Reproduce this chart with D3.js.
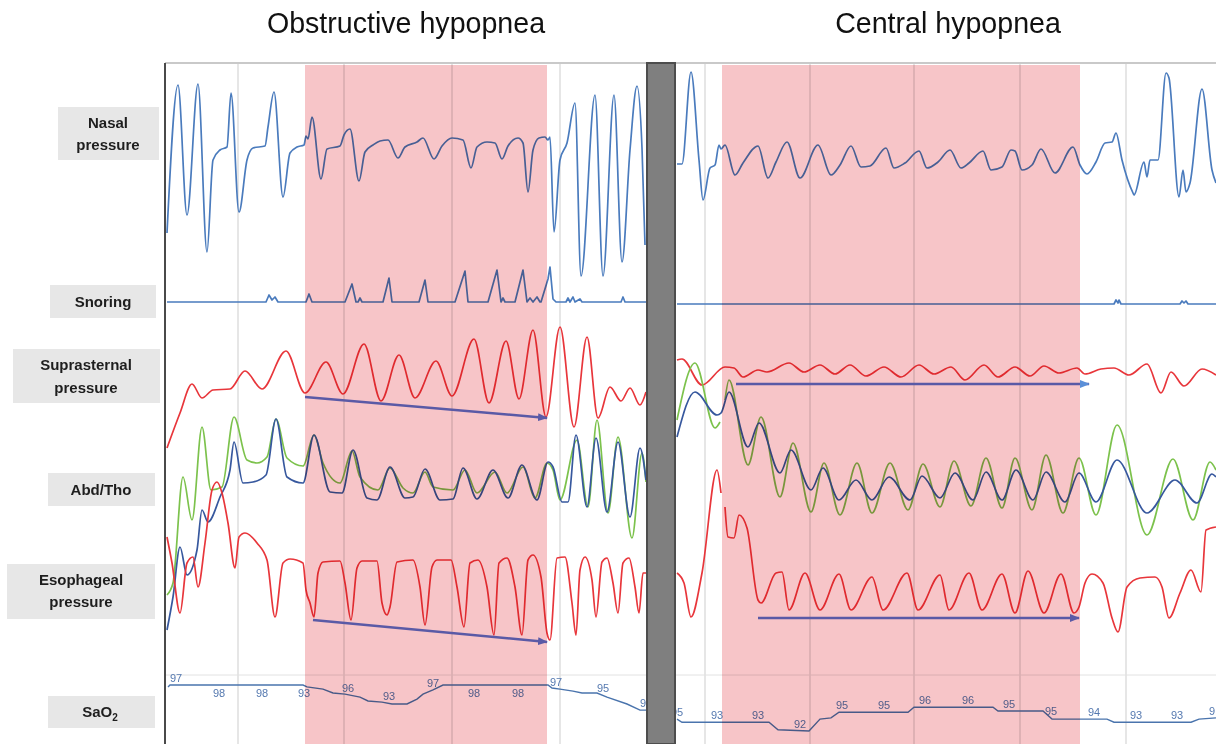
<!DOCTYPE html>
<html>
<head>
<meta charset="utf-8">
<script src="https://cdn.jsdelivr.net/npm/d3@7"></script>
<style>
  body { margin: 0; background: #fff; }
  svg { display: block; }
</style>
</head>
<body>
<svg id="chart" width="1216" height="744"></svg>
<script>
// ---- data: time in s (per panel), signals in a.u., SaO2 in % ----
const titles = ['Obstructive hypopnea', 'Central hypopnea'];
const rowLabels = [['Nasal', 'pressure'], ['Snoring'], ['Suprasternal', 'pressure'], ['Abd/Tho'], ['Esophageal', 'pressure'], ['SaO', '2']];

const epochL = [7.3, 17.9, 28.7, 39.5];
const epochR = [2.9, 13.4, 23.8, 34.4, 45.0];
const hypopneaL = [14.0, 38.2];
const hypopneaR = [4.6, 40.4];

const nasalL = [[0.2,-73],[1.3,75],[2.2,-55],[3.3,76],[4.2,-92],[4.8,0],[5.5,10],[6.2,13],[6.6,67],[7.4,-52],[8.2,0],[8.8,12],[10.0,14],[10.3,33],[10.9,68],[11.8,-37],[12.5,7],[13.2,13],[13.9,15],[14.1,24],[14.3,21],[14.7,43],[15.6,-19],[16.2,11],[17.5,14],[17.9,25],[18.5,31],[19.4,-21],[20.0,8],[20.8,15],[21.5,19],[22.3,20],[23.3,2],[24.0,13],[25.2,18],[25.8,22],[26.9,1],[27.7,14],[28.7,22],[29.8,20],[30.6,-8],[31.2,13],[32.2,18],[33.0,17],[33.7,1],[34.3,14],[35.3,22],[35.8,17],[36.3,-32],[36.8,10],[37.4,22],[38.0,23],[38.3,20],[38.5,23],[38.9,-72],[39.5,0],[40.2,17],[41.0,57],[41.6,-116],[43.0,65],[43.8,-116],[44.9,65],[45.7,-102],[46.5,10],[47.2,74],[47.7,12],[48.0,-85]];
const nasalR = [[0.1,-4],[0.6,-4],[1.5,88],[2.3,0],[2.7,-40],[3.4,-8],[3.9,-5],[4.3,15],[4.5,11],[4.9,15],[5.9,-15],[6.7,-3],[8.2,14],[9.2,-18],[10.0,-2],[11.1,18],[12.4,-18],[14.2,15],[15.5,-15],[16.4,-5],[17.5,14],[18.5,-7],[19.4,-6],[21.0,12],[21.8,-8],[22.9,-3],[24.3,9],[25.1,-8],[26.2,-2],[27.4,10],[28.5,-8],[29.3,-3],[30.7,9],[31.5,-10],[32.6,-7],[33.5,10],[33.9,9],[34.6,-10],[35.6,-5],[36.5,11],[37.9,-13],[39.7,13],[40.4,-5],[41.1,-14],[42.0,-2],[42.9,17],[43.6,18],[44.0,27],[44.6,0],[45.7,-33],[45.8,-35],[46.8,-2],[47.1,-17],[47.4,0],[48.2,0],[49.0,87],[49.3,82],[50.3,-37],[50.7,-10],[51.0,-32],[51.4,-23],[52.6,71],[53.6,-10],[54.0,-23]];

const snoreL = [[0.2,0],[10.1,0],[10.4,7],[10.7,2],[11.0,5],[11.3,0],[14.1,0],[14.4,8],[14.7,0],[18.0,0],[18.7,18],[19.1,0],[19.3,0],[19.5,4],[19.7,0],[21.8,0],[22.4,24],[22.7,0],[25.4,0],[26.0,22],[26.3,0],[29.0,0],[30.0,31],[30.3,0],[32.3,0],[33.2,32],[33.6,0],[33.8,4],[34.0,0],[35.0,0],[35.8,32],[36.2,0],[36.5,4],[36.8,0],[37.2,5],[37.5,0],[37.6,0],[38.3,23],[38.5,35],[38.8,3],[39.1,0],[40.1,0],[40.3,4],[40.5,0],[40.8,5],[41.0,0],[41.5,3],[41.7,0],[45.6,0],[45.8,5],[46.0,0],[48.2,0]];
const snoreR = [[0.1,-2],[43.8,-2],[44.0,2],[44.2,-1],[44.3,2],[44.5,-2],[50.4,-2],[50.6,1],[50.8,-1],[51.0,1],[51.2,-2],[54.0,-2]];

const supraL = [[0.2,-68],[1.5,-33],[2.7,-4],[3.7,-18],[4.8,-10],[6.5,-9],[8.0,9],[9.7,-9],[12.1,29],[14.0,-13],[16.1,18],[17.8,-14],[19.9,36],[21.6,-21],[23.4,25],[25.0,-18],[27.1,19],[28.7,-16],[30.9,41],[32.4,-23],[34.1,39],[35.4,-19],[36.8,50],[38.1,-37],[39.5,53],[40.9,-47],[42.2,43],[43.3,-38],[44.5,-7],[45.6,-21],[46.5,-8],[47.5,-25],[48.1,-12]];
const supraR = [[0.1,20],[0.6,21],[2.6,-5],[4.9,13],[5.8,12],[6.7,3],[8.2,10],[9.1,8],[11.3,17],[12.8,8],[14.4,15],[15.9,6],[17.4,15],[19.0,4],[20.8,13],[22.5,3],[24.3,15],[25.8,6],[27.5,13],[28.9,0],[30.8,15],[32.2,3],[33.9,13],[35.4,4],[36.8,14],[38.3,7],[40.1,12],[40.9,6],[42.5,11],[43.8,12],[45.3,5],[47.1,16],[48.5,-13],[49.5,8],[50.8,-6],[52.6,11],[54.0,5]];

// thoracic (dark blue) and abdominal (green) belts
const thoL = [[0.2,-160],[0.8,-127],[1.5,-77],[2.2,-105],[3.2,-80],[3.7,-40],[4.3,-52],[5.5,-27],[6.5,0],[6.9,28],[7.8,-13],[8.8,-12],[10.1,-5],[11.1,51],[12.2,-7],[13.8,-13],[14.9,35],[16.5,-22],[17.7,-23],[18.8,20],[20.2,-28],[21.2,-30],[22.5,3],[24.0,-28],[24.8,-27],[26.0,1],[27.5,-30],[28.8,-29],[29.8,2],[31.2,-29],[32.8,0],[34.3,-28],[35.7,5],[37.2,-30],[38.3,8],[38.8,3],[39.7,-32],[40.3,-32],[41.1,35],[42.2,-37],[43.1,32],[44.2,-42],[45.3,28],[46.5,-47],[47.5,22],[48.1,-10]];
const abdL = [[0.2,-125],[0.8,-113],[1.8,-7],[2.7,-50],[3.7,43],[4.6,-20],[5.7,-17],[6.9,53],[8.2,10],[9.2,7],[10.2,13],[11.1,51],[12.2,12],[13.8,4],[14.9,35],[15.8,7],[17.5,-13],[18.7,19],[19.5,-7],[21.3,-20],[22.5,2],[23.8,-18],[24.8,-23],[26.0,-2],[26.8,-17],[28.8,-20],[30.0,0],[31.2,-23],[33.0,-2],[34.2,-23],[35.8,3],[37.0,-28],[38.2,7],[38.8,0],[39.5,-30],[41.2,30],[42.3,-37],[43.2,50],[44.3,-43],[45.3,33],[46.7,-68],[47.7,17],[48.1,-12]];
const thoR = [[0.1,33],[1.9,78],[4.1,55],[4.5,57],[5.3,78],[7.2,23],[8.3,47],[10.4,-3],[11.5,20],[13.5,-20],[14.7,2],[16.3,-30],[18.0,-10],[19.6,-30],[21.3,-7],[23.4,-30],[24.6,-6],[26.4,-28],[27.9,-3],[29.7,-30],[31.0,-2],[32.6,-30],[34.0,0],[35.7,-30],[37.0,-2],[38.9,-32],[40.3,-3],[42.0,-32],[44.1,10],[47.1,-43],[49.9,-10],[52.1,-33],[53.6,-4],[54.0,-7]];
const abdR = [[0.1,50],[1.9,107],[3.9,42],[4.4,48],null,[4.9,70],[5.3,90],[7.2,5],[8.5,53],[10.4,-27],[11.7,27],[13.5,-42],[14.8,7],[16.4,-45],[18.1,7],[19.6,-43],[21.4,7],[23.2,-40],[24.7,6],[26.4,-37],[27.8,9],[29.5,-36],[31.0,12],[32.6,-38],[33.9,12],[35.6,-40],[37.0,15],[38.7,-43],[40.3,12],[42.0,-45],[44.1,45],[47.1,-65],[49.7,11],[51.7,-50],[53.4,8],[54.0,0]];

const esoL = [[0.2,53],[0.7,27],[1.5,-23],[2.2,27],[2.8,33],[3.3,3],[4.0,47],[4.7,100],[5.2,108],[5.7,97],[6.3,67],[7.0,22],[7.4,53],[8.0,57],[9.2,47],[10.2,30],[11.0,-27],[11.8,27],[12.5,31],[13.8,27],[14.1,0],[14.5,-13],[14.9,-27],[15.3,17],[15.8,28],[17.5,29],[18.0,7],[18.6,-30],[19.2,22],[19.7,29],[21.2,29],[21.7,-13],[22.2,-25],[22.5,-17],[23.2,28],[24.8,30],[25.5,3],[26.0,-35],[26.7,23],[27.2,30],[28.6,30],[29.2,3],[29.9,-37],[30.5,27],[31.3,30],[32.2,3],[32.9,-45],[33.4,27],[34.2,32],[35.0,3],[35.7,-45],[36.3,30],[36.8,35],[37.6,13],[38.2,-43],[38.5,-50],[39.2,32],[40.0,33],[40.7,-13],[41.1,-45],[41.5,20],[42.0,33],[42.7,10],[43.1,-27],[43.7,28],[44.2,32],[44.8,7],[45.3,-23],[45.8,27],[46.4,32],[47.0,3],[47.4,-23],[47.8,17],[48.1,17]];
const esoR = [[0.1,17],[0.8,7],[1.5,-27],[2.6,17],[4.1,120],[4.5,97],null,[4.9,83],[5.2,53],[5.8,52],[6.3,75],[7.1,62],[8.2,-10],[8.5,-13],[10.0,17],[10.6,18],[11.3,-20],[12.9,17],[14.4,-20],[16.3,16],[17.5,-20],[19.6,13],[20.7,-20],[23.1,17],[24.2,-20],[26.4,15],[27.3,-20],[29.3,17],[30.6,-20],[32.6,16],[33.9,-23],[35.2,19],[36.8,-23],[38.5,16],[39.8,-23],[40.3,-17],[40.9,7],[41.6,16],[42.7,7],[43.6,-28],[44.2,-42],[45.1,3],[46.4,12],[47.9,13],[48.6,3],[49.3,-28],[50.4,-3],[51.5,20],[52.5,-2],[53.0,60],[54.0,63]];

const saoL = [[0.3,97.5],[0.5,98],[13.8,98],[14.2,97.5],[15.8,96.9],[16.8,95.9],[18.0,95.6],[19.5,94.8],[20.3,93.8],[21.7,93.5],[22.7,93],[24.2,93],[25.2,94.3],[25.8,95.6],[26.8,96.7],[27.8,98],[38.3,98],[38.7,97.2],[39.5,96.9],[40.8,96.4],[41.7,95.9],[43.2,95.9],[44.2,94.8],[46.2,93],[47.5,91.4],[48.2,91.4]];
const saoR = [[0.1,93.9],[0.6,93.4],[9.3,93.4],[10.2,92.2],[13.3,92],[14.4,93.9],[15.5,94.1],[16.3,95],[23.2,95],[23.8,95.8],[31.7,95.8],[32.2,95.2],[36.7,95.2],[37.6,93.9],[43.1,93.9],[43.8,93.4],[51.5,93.4],[52.3,93.9],[54.0,94.1]];
// numeric SaO2 readouts: time, text, shown below the trace
const saoTextL = [[0.5,'97',false],[4.8,'98',true],[9.1,'98',true],[13.3,'93',true],[17.7,'96',false],[21.8,'93',false],[26.2,'97',false],[30.3,'98',true],[34.7,'98',true],[38.5,'97',false],[43.2,'95',false],[47.5,'94',false]];
const saoTextR = [[-0.5,'95',false],[3.5,'93',false],[7.6,'93',false],[11.8,'92',false],[16.0,'95',false],[20.2,'95',false],[24.3,'96',false],[28.6,'96',false],[32.7,'95',false],[36.9,'95',false],[41.2,'94',false],[45.4,'93',false],[49.5,'93',false],[53.3,'9',false]];

// effort-trend arrows: channel, t0, v0, t1, v1
const arrowsL = [['supra',14.0,-17,38.2,-38],['eso',14.8,-30,38.2,-52]];
const arrowsR = [['supra',6.0,-4,41.3,-4],['eso',8.2,-28,40.3,-28]];

// ---- layout ----
const svg = d3.select('#chart');
const yTop = 63, yBottom = 744;
const chanCenter = { nasal: 160, snore: 302, supra: 380, belt: 470, eso: 590 };
const yChan = {};
Object.keys(chanCenter).forEach(k => {
    const c = chanCenter[k];
    yChan[k] = d3.scaleLinear().domain([-100, 100]).range([c + 100, c - 100]);
});

const panels = [
    { id: 'L', x0: 165, x1: 647, dom: [0, 48.2], epochs: epochL, hyp: hypopneaL, nasal: nasalL, snore: snoreL, supra: supraL, tho: thoL, abd: abdL, eso: esoL, sao: saoL, saoText: saoTextL, arrows: arrowsL, saoDom: [98, 93], saoRange: [685, 704] },
    { id: 'R', x0: 676, x1: 1216, dom: [0, 54], epochs: epochR, hyp: hypopneaR, nasal: nasalR, snore: snoreR, supra: supraR, tho: thoR, abd: abdR, eso: esoR, sao: saoR, saoText: saoTextR, arrows: arrowsR, saoDom: [96, 92], saoRange: [706, 731] }
];

svg.append('rect').attr('width', 1216).attr('height', 744).attr('fill', '#fff');

const defs = svg.append('defs');
[['head', '#5a5aa6'], ['headLight', '#5b8fd8']].forEach(([id, col]) => {
    defs.append('marker')
        .attr('id', id)
        .attr('viewBox', '0 0 10 8')
        .attr('refX', 9).attr('refY', 4)
        .attr('markerWidth', 10).attr('markerHeight', 8)
        .attr('markerUnits', 'userSpaceOnUse')
        .attr('orient', 'auto')
        .append('path').attr('d', 'M0,0 L10,4 L0,8 Z').attr('fill', col);
});

// titles
svg.selectAll('text.title')
    .data(titles)
    .join('text')
    .attr('class', 'title')
    .attr('x', (d, i) => i === 0 ? 406 : 948)
    .attr('y', 33)
    .attr('text-anchor', 'middle')
    .attr('font-family', 'Liberation Sans, Arial, sans-serif')
    .attr('font-size', 28.6)
    .attr('fill', '#111')
    .text(d => d);

// row labels
const boxes = [
    { x: 58, y: 107, w: 101, h: 53, cx: 108, base: [128, 150] },
    { x: 50, y: 285, w: 106, h: 33, cx: 103, base: [307] },
    { x: 13, y: 349, w: 147, h: 54, cx: 86, base: [370, 393] },
    { x: 48, y: 473, w: 107, h: 33, cx: 101, base: [495] },
    { x: 7, y: 564, w: 148, h: 55, cx: 81, base: [585, 607] },
    { x: 48, y: 696, w: 107, h: 32, cx: 100, base: [717] }
];
rowLabels.forEach((lab, i) => {
    const b = boxes[i];
    svg.append('rect').attr('x', b.x).attr('y', b.y).attr('width', b.w).attr('height', b.h).attr('fill', '#e7e7e7');
    const txt = svg.append('g')
        .attr('font-family', 'Liberation Sans, Arial, sans-serif')
        .attr('font-weight', 'bold')
        .attr('font-size', 15)
        .attr('fill', '#1e1e1e')
        .attr('text-anchor', 'middle');
    if (i === 5) {
        const t = txt.append('text').attr('x', b.cx).attr('y', b.base[0]);
        t.append('tspan').text(lab[0]);
        t.append('tspan').attr('font-size', 10).attr('dy', 4).text(lab[1]);
    } else {
        lab.forEach((line, j) => {
            txt.append('text').attr('x', b.cx).attr('y', b.base[j]).text(line);
        });
    }
});

panels.forEach(p => {
    const x = d3.scaleLinear().domain(p.dom).range([p.x0, p.x1]);
    const ySao = d3.scaleLinear().domain(p.saoDom).range(p.saoRange);
    const g = svg.append('g');

    defs.append('clipPath').attr('id', 'clip' + p.id)
        .append('rect').attr('x', p.x0).attr('y', yTop).attr('width', p.x1 - p.x0).attr('height', yBottom - yTop);

    // epoch grid
    g.selectAll('line.epoch')
        .data(p.epochs)
        .join('line')
        .attr('x1', d => x(d)).attr('x2', d => x(d))
        .attr('y1', yTop).attr('y2', yBottom)
        .attr('stroke', '#d6d6d6').attr('stroke-width', 1.2);
    g.append('line')
        .attr('x1', p.x0).attr('x2', p.x1).attr('y1', 675).attr('y2', 675)
        .attr('stroke', '#e2e2e2').attr('stroke-width', 1);

    const traces = g.append('g').attr('clip-path', `url(#clip${p.id})`);
    const smooth = (ch) => d3.line()
        .defined(d => d !== null)
        .x(d => x(d[0]))
        .y(d => yChan[ch](d[1]))
        .curve(d3.curveMonotoneX);
    const straight = (ch) => d3.line()
        .x(d => x(d[0]))
        .y(d => yChan[ch](d[1]));

    const series = [
        [p.nasal, smooth('nasal'), '#4a7bbd'],
        [p.snore, straight('snore'), '#4a7bbd'],
        [p.supra, smooth('supra'), '#e8363b'],
        [p.abd, smooth('belt'), '#7cc24c'],
        [p.tho, smooth('belt'), '#37589e'],
        [p.eso, smooth('eso'), '#e8363b']
    ];
    series.forEach(([data, gen, col]) => {
        traces.append('path')
            .attr('d', gen(data))
            .attr('fill', 'none')
            .attr('stroke', col)
            .attr('stroke-width', 1.7)
            .attr('stroke-linejoin', 'round');
    });

    // SaO2 trace and readouts
    const saoLine = d3.line().x(d => x(d[0])).y(d => ySao(d[1]));
    traces.append('path')
        .attr('d', saoLine(p.sao))
        .attr('fill', 'none')
        .attr('stroke', '#4a74ad')
        .attr('stroke-width', 1.4);
    const tt = p.sao.map(d => d[0]);
    const saoAt = t => {
        const i = Math.max(1, Math.min(tt.length - 1, d3.bisectLeft(tt, t)));
        const a = p.sao[i - 1], b = p.sao[i];
        const f = Math.max(0, Math.min(1, (t - a[0]) / (b[0] - a[0])));
        return a[1] + f * (b[1] - a[1]);
    };
    g.selectAll('text.sao')
        .data(p.saoText)
        .join('text')
        .attr('class', 'sao')
        .attr('x', d => x(d[0]))
        .attr('y', d => ySao(saoAt(d[0] + 0.6)) + (d[2] ? 9 : -6))
        .attr('dominant-baseline', 'middle')
        .attr('font-family', 'Liberation Sans, Arial, sans-serif')
        .attr('font-size', 11)
        .attr('fill', '#5579b0')
        .text(d => d[1]);

    // hypopnea shading (multiplied over traces)
    g.append('rect')
        .attr('x', x(p.hyp[0])).attr('y', yTop + 2)
        .attr('width', x(p.hyp[1]) - x(p.hyp[0]))
        .attr('height', yBottom - yTop - 2)
        .attr('fill', '#f7c5c8')
        .style('mix-blend-mode', 'multiply');

    // effort arrows
    g.selectAll('line.arrow')
        .data(p.arrows)
        .join('line')
        .attr('x1', d => x(d[1])).attr('y1', d => yChan[d[0]](d[2]))
        .attr('x2', d => x(d[3])).attr('y2', d => yChan[d[0]](d[4]))
        .attr('stroke', '#5a5aa6')
        .attr('stroke-width', 2.5)
        .attr('marker-end', d => (p.id === 'R' && d[0] === 'supra') ? 'url(#headLight)' : 'url(#head)');
});

// frame
svg.append('line').attr('x1', 165).attr('x2', 1216).attr('y1', yTop).attr('y2', yTop)
    .attr('stroke', '#c9c9c9').attr('stroke-width', 2);
svg.append('line').attr('x1', 165).attr('x2', 165).attr('y1', yTop).attr('y2', yBottom)
    .attr('stroke', '#4a4a4a').attr('stroke-width', 2);
svg.append('rect').attr('x', 647).attr('y', yTop).attr('width', 28).attr('height', yBottom - yTop)
    .attr('fill', '#7f7f7f').attr('stroke', '#4d4d4d').attr('stroke-width', 2);
</script>
</body>
</html>
